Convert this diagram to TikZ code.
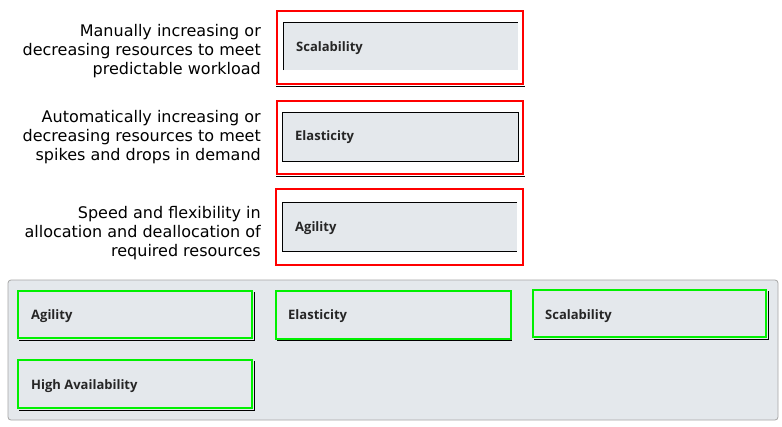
\documentclass[tikz,border=0pt]{standalone}
\usepackage{fontspec}
\setmainfont{Open Sans}
\newfontfamily\descfont{DejaVu Sans}
\begin{document}
\begin{tikzpicture}[x=1pt,y=-1pt,
  desc/.style={align=right,anchor=east,font=\descfont\fontsize{16}{19}\selectfont,inner sep=0pt},
  redframe/.style={draw=red,line width=2pt},
  lbl/.style={font=\fontsize{13}{15}\selectfont\bfseries,anchor=west,text=black!85,inner sep=0pt},
  chip/.style={draw=chipgreen,line width=2pt,fill=boxgray},
  shadow/.style={draw=black,line width=1pt}]
\definecolor{boxgray}{HTML}{E4E8EC}
\definecolor{panelborder}{HTML}{A6A6A6}
\definecolor{chipgreen}{HTML}{00F000}
\useasboundingbox (0,0) rectangle (782,426);
\fill[white] (0,0) rectangle (782,426);
% descriptions
\node[desc] (d1) at (261,51) {Manually increasing or\\decreasing resources to meet\\predictable workload};
\node[desc] (d2) at (261,137) {Automatically increasing or\\decreasing resources to meet\\spikes and drops in demand};
\node[desc] (d3) at (261,233) {Speed and flexibility in\\allocation and deallocation of\\required resources};
% slot 1
\draw[black,line width=0.8pt] (276,86) -- (525,86);
\fill[boxgray] (283,22) rectangle (518,70);
\draw[black,line width=0.8pt] (283,70) -- (283,22) -- (518,22);
\draw[redframe] (277,11) rectangle (523,84);
\node[lbl] (s1) at (296,48.5) {Scalability};
% slot 2
\draw[black,line width=0.8pt] (276,176) -- (525,176);
\draw[black,line width=0.8pt,fill=boxgray] (282,112) rectangle (518,161);
\draw[redframe] (277,101) rectangle (523,174);
\node[lbl] (s2) at (295,137.5) {Elasticity};
% slot 3
\fill[boxgray] (282,202) rectangle (517,251);
\draw[black,line width=0.8pt] (517,202) -- (282,202) -- (282,251) -- (517,251);
\draw[redframe] (276,189) rectangle (523,265);
\node[lbl] (s3) at (295,228.5) {Agility};
% panel
\draw[panelborder,fill=boxgray,rounded corners=3pt,line width=0.8pt] (8,280) rectangle (778,420);
% chips
\draw[shadow] (19,340) -- (254,340) -- (254,292);
\draw[chip] (18,291) rectangle (252,338);
\node[lbl] (c1) at (31,316.5) {Agility};
\draw[shadow] (277,340) -- (512,340);
\draw[chip] (276,291) rectangle (511,339);
\node[lbl] (c2) at (288,316.5) {Elasticity};
\draw[shadow] (534,339) -- (768,339) -- (768,291);
\draw[chip] (533,290) rectangle (766,337);
\node[lbl] (c3) at (545,316.5) {Scalability};
\draw[shadow] (19,410) -- (254,410) -- (254,361);
\draw[chip] (18,360) rectangle (252,408);
\node[lbl] (c4) at (31,386.5) {High Availability};
\end{tikzpicture}
\end{document}
